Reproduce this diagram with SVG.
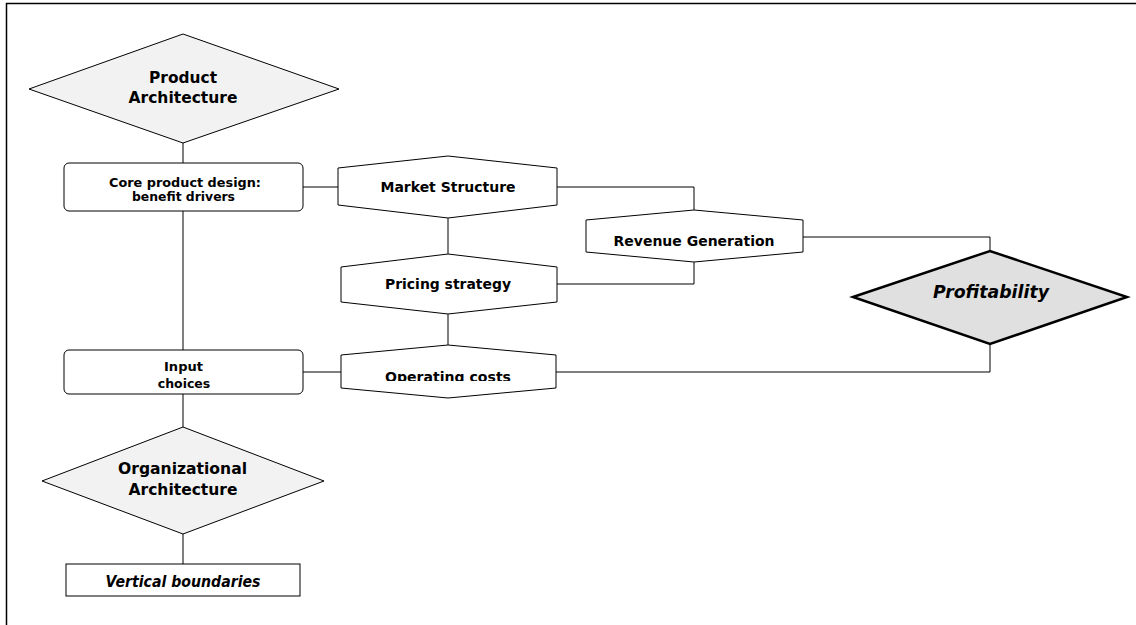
<svg xmlns="http://www.w3.org/2000/svg" width="1136" height="625" viewBox="0 0 1136 625">
<style>
  .frame{fill:none;stroke:#000;stroke-width:1.5}
  .hex{fill:#fff;stroke:#000;stroke-width:1}
  .box{fill:#fff;stroke:#000;stroke-width:1}
  .dia{fill:#f2f2f2;stroke:#000;stroke-width:1}
  .dia2{fill:#e0e0e0;stroke:#000;stroke-width:2.5;stroke-linejoin:miter}
  .conn{fill:none;stroke:#000;stroke-width:1}
  text{font-family:"DejaVu Sans","Liberation Sans",sans-serif;font-weight:bold;fill:#000;text-anchor:middle}
  .big{font-size:16px}
  .mid{font-size:14.5px}
  .sm{font-size:12.5px}
  .it{font-style:italic}
</style>
<defs>
  <clipPath id="opclip"><rect x="340" y="340" width="220" height="41"/></clipPath>
</defs>
<rect class="frame" x="6.5" y="3.5" width="1200" height="700"/>
<g id="connectors">
  <polyline class="conn" points="183,143 183,163"/>
  <polyline class="conn" points="183,211 183,350"/>
  <polyline class="conn" points="303,187 339,187"/>
  <polyline class="conn" points="448,218 448,254"/>
  <polyline class="conn" points="557,187 694,187 694,210"/>
  <polyline class="conn" points="557,284 694,284 694,262"/>
  <polyline class="conn" points="803,237 990,237 990,251"/>
  <polyline class="conn" points="448,314 448,345"/>
  <polyline class="conn" points="303,372 341,372"/>
  <polyline class="conn" points="556,372 990,372 990,344"/>
  <polyline class="conn" points="183,394 183,427"/>
  <polyline class="conn" points="183,534 183,564"/>
</g>
<g id="product-architecture">
  <polygon class="dia" points="29,89 183,34 339,89 183,143"/>
  <text class="big" x="183" y="83" textLength="68" lengthAdjust="spacingAndGlyphs">Product</text>
  <text class="big" x="183" y="103" textLength="109" lengthAdjust="spacingAndGlyphs">Architecture</text>
</g>
<g id="core-product-design">
  <rect class="box" x="64" y="163" width="239" height="48" rx="5"/>
  <text class="sm" x="185" y="187" textLength="152" lengthAdjust="spacingAndGlyphs">Core product design:</text>
  <text class="sm" x="183.5" y="201" textLength="103" lengthAdjust="spacingAndGlyphs">benefit drivers</text>
</g>
<g id="market-structure">
  <polygon class="hex" points="338,168 448,156 557,168 557,205 448,218 338,205"/>
  <text class="mid" x="448" y="192" textLength="135" lengthAdjust="spacingAndGlyphs">Market Structure</text>
</g>
<g id="revenue-generation">
  <polygon class="hex" points="586,220 694,210 803,220 803,252 694,262 586,252"/>
  <text class="mid" x="694" y="246" textLength="161" lengthAdjust="spacingAndGlyphs">Revenue Generation</text>
</g>
<g id="pricing-strategy">
  <polygon class="hex" points="341,267 448,254 557,267 557,302 448,314 341,302"/>
  <text class="mid" x="448" y="289" textLength="126" lengthAdjust="spacingAndGlyphs">Pricing strategy</text>
</g>
<g id="profitability">
  <polygon class="dia2" points="853,297 990,251 1127,297 990,344"/>
  <text class="it" x="991" y="298" font-size="18" textLength="116" lengthAdjust="spacingAndGlyphs">Profitability</text>
</g>
<g id="input-choices">
  <rect class="box" x="64" y="350" width="239" height="44" rx="5"/>
  <text x="183.5" y="371" font-size="13" textLength="39" lengthAdjust="spacingAndGlyphs">Input</text>
  <text x="184" y="388" font-size="13" textLength="52.5" lengthAdjust="spacingAndGlyphs">choices</text>
</g>
<g id="operating-costs">
  <polygon class="hex" points="341,355 448,345 556,355 556,388 448,398 341,388"/>
  <text class="mid" x="448" y="382" clip-path="url(#opclip)" textLength="126" lengthAdjust="spacingAndGlyphs">Operating costs</text>
</g>
<g id="organizational-architecture">
  <polygon class="dia" points="42,481 183,427 324,481 183,534"/>
  <text class="big" x="182.5" y="474" textLength="129" lengthAdjust="spacingAndGlyphs">Organizational</text>
  <text class="big" x="183" y="495" textLength="109" lengthAdjust="spacingAndGlyphs">Architecture</text>
</g>
<g id="vertical-boundaries">
  <rect class="box" x="66" y="564" width="234" height="32"/>
  <text class="it" x="183" y="587" font-size="15" textLength="155" lengthAdjust="spacingAndGlyphs">Vertical boundaries</text>
</g>
</svg>
